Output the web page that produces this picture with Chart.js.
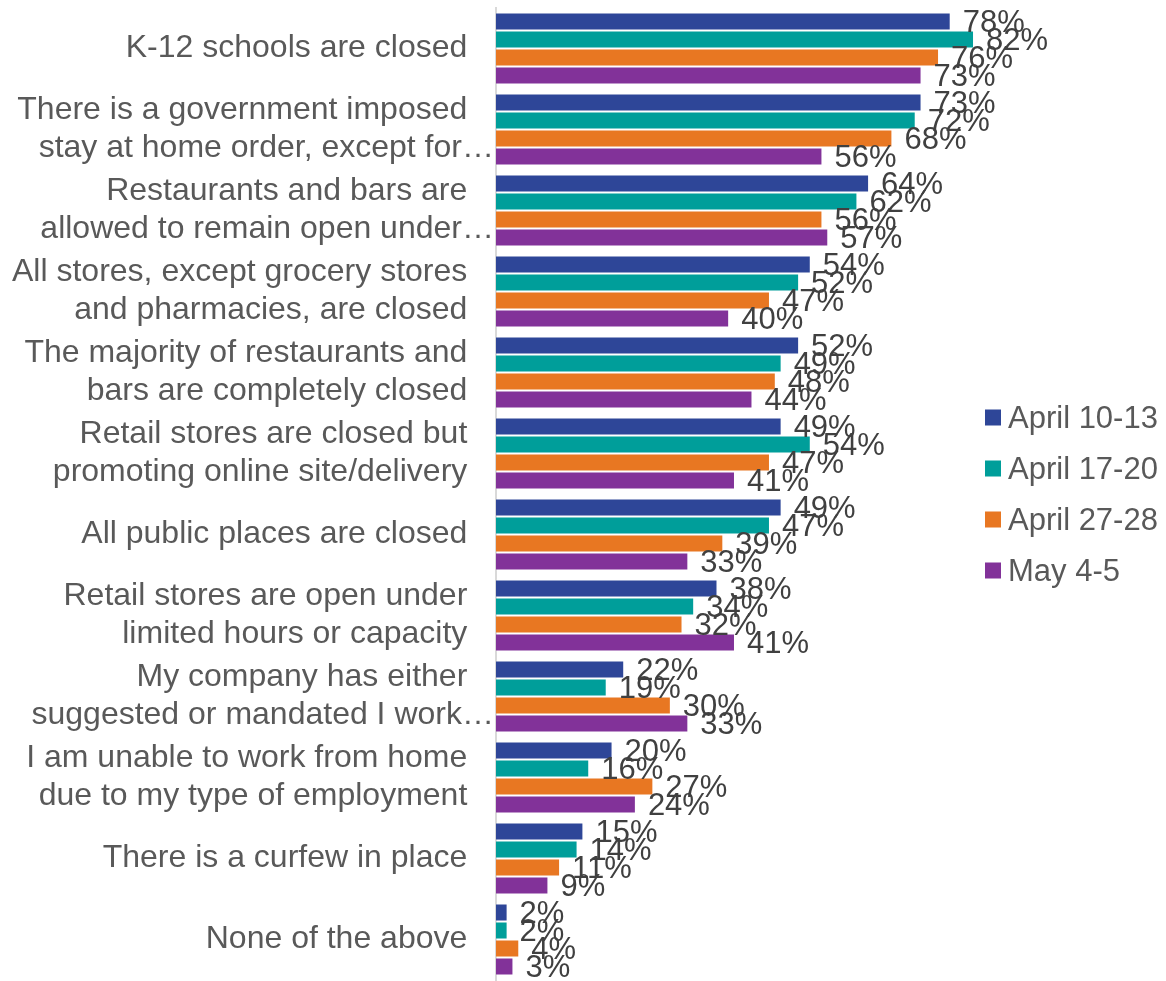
<!DOCTYPE html>
<html>
<head>
<meta charset="utf-8">
<script src="https://cdn.jsdelivr.net/npm/chart.js@4.4.1/dist/chart.umd.min.js"></script>
<style>
  html, body { margin: 0; padding: 0; background: #fff; }
  .chart-box { position: relative; width: 1166px; height: 981px; }
</style>
</head>
<body>
<div class="chart-box"><canvas id="policyChart"></canvas></div>
<script>
const categories = [
  "K-12 schools are closed",
  ["There is a government imposed", "stay at home order, except for…"],
  ["Restaurants and bars are", "allowed to remain open under…"],
  ["All stores, except grocery stores", "and pharmacies, are closed"],
  ["The majority of restaurants and", "bars are completely closed"],
  ["Retail stores are closed but", "promoting online site/delivery"],
  "All public places are closed",
  ["Retail stores are open under", "limited hours or capacity"],
  ["My company has either", "suggested or mandated I work…"],
  ["I am unable to work from home", "due to my type of employment"],
  "There is a curfew in place",
  "None of the above",
];

const seriesNames = ["April 10-13", "April 17-20", "April 27-28", "May 4-5"];

const april10 = [78, 73, 64, 54, 52, 49, 49, 38, 22, 20, 15, 2];
const april17 = [82, 72, 62, 52, 49, 54, 47, 34, 19, 16, 14, 2];
const april27 = [76, 68, 56, 47, 48, 47, 39, 32, 30, 27, 11, 4];
const may4 = [73, 56, 57, 40, 44, 41, 33, 41, 33, 24, 9, 3];

const colors = ["#2E4698", "#009E9A", "#E87722", "#823299"];
const fontFamily = "'Liberation Sans', Arial, sans-serif";

// percent labels at the end of each bar, Excel style (they overlap)
const endLabels = {
  id: "endLabels",
  afterDatasetsDraw(chart) {
    const { ctx } = chart;
    ctx.save();
    ctx.font = `31px ${fontFamily}`;
    ctx.fillStyle = "#404040";
    ctx.textBaseline = "middle";
    ctx.textAlign = "left";
    chart.data.datasets.forEach((ds, i) => {
      chart.getDatasetMeta(i).data.forEach((bar, j) => {
        ctx.fillText(ds.data[j] + "%", bar.x + 12, bar.y + 2);
      });
    });
    ctx.restore();
  },
};

// legend drawn by hand so the y axis can keep its full width
const sideLegend = {
  id: "sideLegend",
  afterDraw(chart) {
    const { ctx, chartArea } = chart;
    const n = chart.data.datasets.length;
    const step = 51;
    const x = chart.width - 181;
    const y0 = (chartArea.top + chartArea.bottom) / 2 - (step * (n - 1)) / 2;
    ctx.save();
    ctx.font = `31px ${fontFamily}`;
    ctx.textBaseline = "middle";
    ctx.textAlign = "left";
    chart.data.datasets.forEach((ds, i) => {
      const y = y0 + i * step;
      ctx.fillStyle = ds.backgroundColor;
      ctx.fillRect(x, y - 8, 16, 16);
      ctx.fillStyle = "#595959";
      ctx.fillText(ds.label, x + 23, y + 2);
    });
    ctx.restore();
  },
};

// excel lets the "…" of cut labels hang past the text edge
function hangEllipsis(label) {
  const lines = Array.isArray(label) ? label : [label];
  const out = lines.map((l) => (l.endsWith("…") ? l : l + "   "));
  return out.length === 1 ? out[0] : out;
}

const allSeries = [april10, april17, april27, may4];

new Chart(document.getElementById("policyChart"), {
  type: "bar",
  data: {
    labels: categories,
    datasets: allSeries.map((values, i) => ({
      label: seriesNames[i],
      data: values,
      backgroundColor: colors[i],
      borderColor: "rgba(255,255,255,0.35)",
      borderWidth: 1,
      categoryPercentage: 0.89,
      barPercentage: 1.0,
      clip: false,
    })),
  },
  options: {
    indexAxis: "y",
    responsive: true,
    maintainAspectRatio: false,
    animation: false,
    layout: { padding: { top: 8, bottom: 1, left: 10, right: 150 } },
    plugins: {
      legend: { display: false },
      tooltip: { enabled: false },
    },
    scales: {
      x: { display: false, min: 0, max: 89.2 },
      y: {
        grid: { display: false, drawTicks: false },
        border: { color: "#d9d9d9", width: 2 },
        afterFit(scale) {
          scale.paddingTop = 0;
          scale.paddingBottom = 0;
        },
        ticks: {
          color: "#595959",
          padding: 2,
          font: { family: fontFamily, size: 32, lineHeight: 1.19 },
          callback(value) {
            return hangEllipsis(this.getLabelForValue(value));
          },
        },
      },
    },
  },
  plugins: [endLabels, sideLegend],
});
</script>
</body>
</html>
